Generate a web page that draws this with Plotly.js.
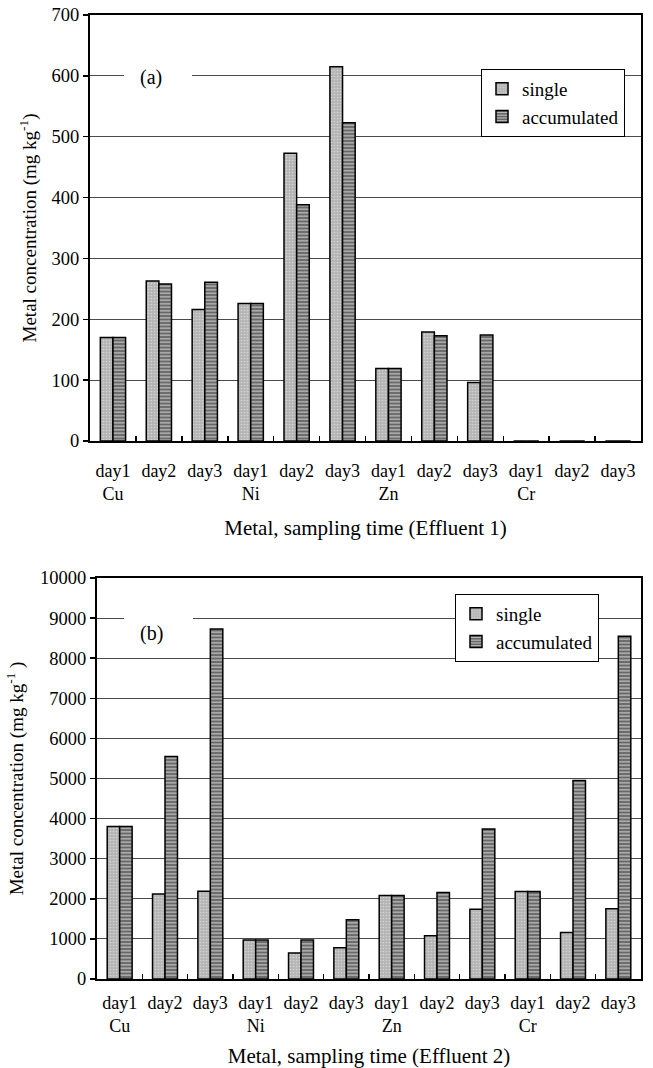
<!DOCTYPE html>
<html>
<head>
<meta charset="utf-8">
<script src="https://cdn.plot.ly/plotly-3.0.1.min.js"></script>
<style>html,body{margin:0;padding:0;background:#fff;}#chart{width:653px;height:1068px;}</style>
</head>
<body>
<div id="chart"></div>
<script>
// ---- data ----
const metals = ['Cu', 'Ni', 'Zn', 'Cr'];
const days = ['day1', 'day2', 'day3'];
// Effluent 1 (panel a), mg/kg
const singleE1 = [170, 263, 216, 226, 473, 615, 119, 179, 96, 0, 0, 0];
const accumE1 = [170, 258, 261, 226, 388, 523, 119, 173, 174, 0, 0, 0];
// Effluent 2 (panel b), mg/kg
const singleE2 = [3800, 2120, 2190, 970, 650, 780, 2080, 1080, 1740, 2180, 1160, 1750];
const accumE2 = [3800, 5550, 8730, 970, 970, 1480, 2080, 2160, 3740, 2180, 4950, 8550];
const seriesNames = ['single', 'accumulated'];
const panelLabels = ['(a)', '(b)'];
const xTitles = ['Metal, sampling time (Effluent 1)', 'Metal, sampling time (Effluent 2)'];
const yTitles = ['Metal concentration (mg kg<sup>-1</sup>)', 'Metal concentration (mg kg<sup>-1</sup> )'];

// ---- build ----
const categories = [];
const tickLabels = [];
metals.forEach(m => days.forEach((d, i) => {
  categories.push(m + ' ' + d);
  tickLabels.push(i === 0 ? d + '<br>' + m : d);
}));

const FONT = 'Liberation Serif';
const singleStyle = {
  color: '#b4b4b4',
  line: {color: '#000', width: 1.5},
  pattern: {shape: '.', bgcolor: '#b4b4b4', fgcolor: '#d4d4d4', size: 3, solidity: 0.25, fillmode: 'replace'}
};
const accumStyle = {
  color: '#6a6a6a',
  line: {color: '#000', width: 1.5},
  pattern: {shape: '-', bgcolor: '#686868', fgcolor: '#d4d4d4', size: 3.5, solidity: 0.3, fillmode: 'replace'}
};

const traces = [
  {type: 'bar', name: seriesNames[0], x: categories, y: singleE1, marker: singleStyle, xaxis: 'x', yaxis: 'y', legend: 'legend'},
  {type: 'bar', name: seriesNames[1], x: categories, y: accumE1, marker: accumStyle, xaxis: 'x', yaxis: 'y', legend: 'legend'},
  {type: 'bar', name: seriesNames[0], x: categories, y: singleE2, marker: singleStyle, xaxis: 'x2', yaxis: 'y2', legend: 'legend2'},
  {type: 'bar', name: seriesNames[1], x: categories, y: accumE2, marker: accumStyle, xaxis: 'x2', yaxis: 'y2', legend: 'legend2'}
];

const W = 653, H = 1068;
const px = v => v / W;
const py = v => 1 - v / H;

function xaxisDef(domain, anchor, title, labelStandoff, titleStandoff) {
  return {
    domain: domain, anchor: anchor,
    type: 'category',
    tickmode: 'array', tickvals: categories, ticktext: tickLabels,
    tickson: 'boundaries', ticks: 'inside', ticklen: 5, tickwidth: 1.5, tickcolor: '#000',
    ticklabelstandoff: labelStandoff,
    showline: true, linecolor: '#000', linewidth: 2, mirror: true,
    showgrid: false, zeroline: false,
    tickfont: {family: FONT, size: 18, color: '#000'},
    title: {text: title, font: {family: FONT, size: 21, color: '#000'}, standoff: titleStandoff},
    automargin: false
  };
}
function yaxisDef(domain, anchor, range, dtick, title, standoff) {
  return {
    domain: domain, anchor: anchor,
    range: range, dtick: dtick, tick0: 0, tickformat: 'd',
    ticks: 'outside', ticklen: 5, tickwidth: 1.5, tickcolor: '#000',
    showline: true, linecolor: '#000', linewidth: 2, mirror: true,
    showgrid: true, gridcolor: '#4a4a4a', gridwidth: 1, zeroline: false,
    tickfont: {family: FONT, size: 18.5, color: '#000'},
    title: {text: title, font: {family: FONT, size: 19, color: '#000'}, standoff: standoff},
    automargin: false
  };
}

const legendBase = {
  xanchor: 'left', yanchor: 'top',
  bgcolor: '#fff', bordercolor: '#000', borderwidth: 1,
  font: {family: FONT, size: 19, color: '#000'}, tracegroupgap: 0, itemwidth: 30
};

const layout = {
  width: W, height: H,
  margin: {l: 0, r: 0, t: 0, b: 0},
  paper_bgcolor: '#fff', plot_bgcolor: '#fff',
  font: {family: FONT, size: 17, color: '#000'},
  barmode: 'group', bargap: 0.45, bargroupgap: 0,
  xaxis: xaxisDef([px(90), px(641)], 'y', xTitles[0], 12, 17),
  yaxis: yaxisDef([py(441), py(15)], 'x', [0, 700], 100, yTitles[0], 10),
  xaxis2: xaxisDef([px(97), px(641)], 'y2', xTitles[1], 6, 17),
  yaxis2: yaxisDef([py(979), py(578)], 'x2', [0, 10000], 1000, yTitles[1], 11),
  legend: Object.assign({x: px(481), y: py(69)}, legendBase),
  legend2: Object.assign({x: px(455), y: py(594)}, legendBase),
  shapes: [
    {type: 'rect', xref: 'paper', yref: 'paper', layer: 'above',
     x0: px(124), x1: px(192), y0: py(86), y1: py(68), fillcolor: '#fff', line: {width: 0}},
    {type: 'rect', xref: 'paper', yref: 'paper', layer: 'above',
     x0: px(124), x1: px(193), y0: py(624), y1: py(612), fillcolor: '#fff', line: {width: 0}}
  ],
  annotations: [
    {text: panelLabels[0], xref: 'paper', yref: 'paper', x: px(151), y: py(78),
     xanchor: 'center', yanchor: 'middle', showarrow: false,
     font: {family: FONT, size: 20, color: '#000'}},
    {text: panelLabels[1], xref: 'paper', yref: 'paper', x: px(151), y: py(633),
     xanchor: 'center', yanchor: 'middle', showarrow: false,
     font: {family: FONT, size: 20, color: '#000'}}
  ],
  showlegend: true
};

Plotly.newPlot('chart', traces, layout, {staticPlot: true, displayModeBar: false});
</script>
</body>
</html>
